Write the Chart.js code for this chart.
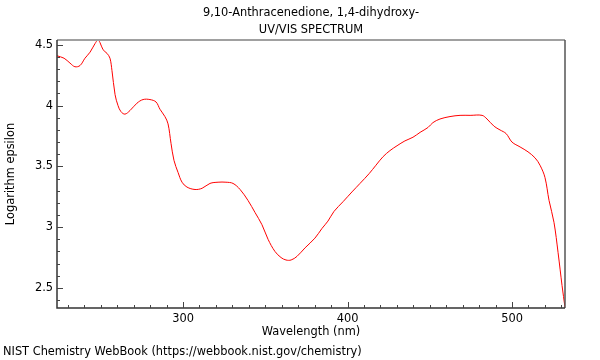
<!DOCTYPE html>
<html><head><meta charset="utf-8">
<script src="https://cdn.jsdelivr.net/npm/chart.js@4.4.1/dist/chart.umd.min.js"></script>
<style>html,body{margin:0;padding:0;background:#fff}#wrap{width:600px;height:360px}</style>
</head><body><div id="wrap"><canvas id="c" width="600" height="360"></canvas></div>
<script>
const titleLines = ["9,10-Anthracenedione, 1,4-dihydroxy-", "UV/VIS SPECTRUM"];
const xTitle = "Wavelength (nm)";
const yTitle = "Logarithm epsilon";
const footer = "NIST Chemistry WebBook (https://webbook.nist.gov/chemistry)";
const wavelength = [223.4,227.7,231.3,234.3,237.4,240.4,243.5,246.5,248.3,249.5,251.4,253.8,255.6,256.8,258.7,260.5,262.3,264.7,267.8,272,275.7,279.9,283.6,286,289,290.9,292.7,294.5,297,299.4,302.4,307.3,311.6,316.4,321.3,326.1,330.4,334.7,339.5,343.8,348,351.7,355.9,359.6,362.6,365.7,369.3,374.2,380.2,384.5,388.1,391.8,397.3,402.7,407.6,413.1,417.3,421.6,425.8,430.1,434.9,439.8,444.1,448.9,451.9,456.2,462.3,468.4,474.5,481.8,484.8,489.1,492.7,496.4,500,504.9,509.7,514,517,520,522.5,525.5,528,530.4,532.2];
const logEpsilon = [4.41,4.39,4.35,4.32,4.33,4.39,4.44,4.51,4.54,4.52,4.46,4.43,4.39,4.29,4.09,4.0,3.95,3.93,3.96,4.02,4.05,4.05,4.03,3.97,3.91,3.85,3.69,3.55,3.45,3.37,3.33,3.31,3.32,3.36,3.37,3.37,3.36,3.31,3.22,3.12,3.02,2.90,2.80,2.75,2.73,2.73,2.76,2.83,2.91,2.99,3.05,3.13,3.21,3.29,3.36,3.44,3.51,3.58,3.63,3.67,3.71,3.74,3.78,3.82,3.86,3.89,3.91,3.92,3.92,3.92,3.89,3.83,3.80,3.77,3.70,3.66,3.62,3.57,3.51,3.41,3.22,3.04,2.79,2.52,2.34];
const xMajorTicks = [300, 400, 500];
const yMajorTicks = [2.5, 3, 3.5, 4, 4.5];
const X_MIN = 223.4, X_MAX = 532.2, Y_MIN = 2.335, Y_MAX = 4.54;

const FONT = "'DejaVu Sans', sans-serif";
const FSIZE = 11.4;
const framePlugin = {
  id: 'frame',
  afterDraw(chart) {
    const {ctx, chartArea: a, scales} = chart;
    const xs = scales.x, ys = scales.y;
    ctx.save();
    ctx.lineWidth = 2; ctx.strokeStyle = '#a0a0a0';
    ctx.beginPath(); ctx.moveTo(a.left, a.top); ctx.lineTo(a.right, a.top); ctx.stroke();
    ctx.lineWidth = 1.5; ctx.strokeStyle = '#555';
    ctx.beginPath(); ctx.moveTo(a.right, a.top); ctx.lineTo(a.right, a.bottom); ctx.stroke();
    ctx.strokeStyle = '#333';
    ctx.beginPath(); ctx.moveTo(a.left, a.top); ctx.lineTo(a.left, a.bottom); ctx.lineTo(a.right, a.bottom); ctx.stroke();
    ctx.lineWidth = 1; ctx.strokeStyle = '#444';
    for (let v = 230; v <= X_MAX; v += 10) {
      const px = Math.round(xs.getPixelForValue(v)) + 0.5;
      const len = (v % 100 === 0) ? 6 : 3;
      ctx.beginPath(); ctx.moveTo(px, a.bottom); ctx.lineTo(px, a.bottom - len); ctx.stroke();
    }
    for (let i = 24; i <= 45; i++) {
      const v = i / 10;
      const py = Math.round(ys.getPixelForValue(v)) + 0.5;
      const len = (i % 5 === 0) ? 6 : 3;
      ctx.beginPath(); ctx.moveTo(a.left, py); ctx.lineTo(a.left + len, py); ctx.stroke();
    }
    ctx.fillStyle = '#000';
    ctx.font = FSIZE + 'px ' + FONT;
    ctx.textAlign = 'center'; ctx.textBaseline = 'middle';
    const cx = (a.left + a.right) / 2;
    ctx.fillText(titleLines[0], cx, 13);
    ctx.fillText(titleLines[1], cx, 30);
    ctx.fillText(xTitle, cx, 332);
    ctx.save(); ctx.translate(11, (a.top + a.bottom) / 2); ctx.rotate(-Math.PI / 2);
    ctx.fillText(yTitle, 0, 0); ctx.restore();
    ctx.textAlign = 'left';
    ctx.fillText(footer, 3, 352);
    ctx.restore();
  }
};

new Chart(document.getElementById('c'), {
  type: 'line',
  data: {
    datasets: [{
      data: wavelength.map((w, i) => ({x: w, y: logEpsilon[i]})),
      borderColor: 'rgb(255,0,0)', borderWidth: 1, pointRadius: 0,
      tension: 0.35, fill: false
    }]
  },
  options: {
    responsive: false, animation: false, devicePixelRatio: 1,
    layout: {padding: {left: 0, right: 35, top: 40, bottom: 34}},
    plugins: {legend: {display: false}, tooltip: {enabled: false}, title: {display: false}},
    scales: {
      x: {
        type: 'linear', min: X_MIN, max: X_MAX,
        afterBuildTicks: s => { s.ticks = xMajorTicks.map(v => ({value: v})); },
        afterFit: s => { s.height = 18; },
        grid: {display: false, drawTicks: false},
        border: {display: false},
        ticks: {font: {family: FONT, size: FSIZE}, color: '#000', padding: 4, autoSkip: false, maxRotation: 0,
                callback: v => String(v)}
      },
      y: {
        type: 'linear', min: Y_MIN, max: Y_MAX,
        afterBuildTicks: s => { s.ticks = yMajorTicks.map(v => ({value: v})); },
        afterFit: s => { s.width = 57; },
        grid: {display: false, drawTicks: false},
        border: {display: false},
        ticks: {font: {family: FONT, size: FSIZE}, color: '#000', padding: 4,
                callback: v => String(v)}
      }
    }
  },
  plugins: [framePlugin]
});
</script></body></html>
